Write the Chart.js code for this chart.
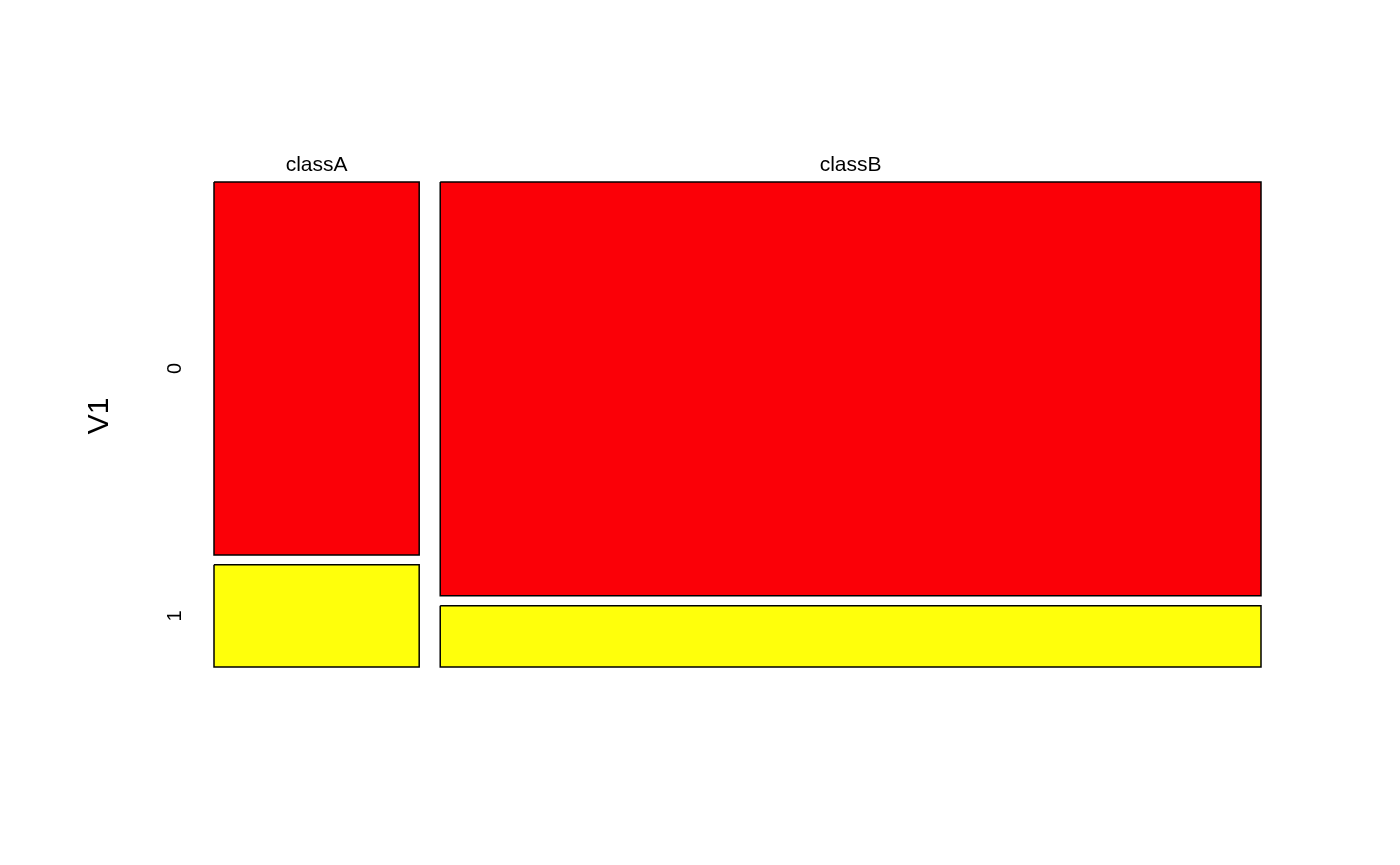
<!DOCTYPE html>
<html>
<head>
<meta charset="utf-8">
<script src="https://cdn.jsdelivr.net/npm/chart.js@4.4.1/dist/chart.umd.min.js"></script>
<style>
  html, body { margin: 0; padding: 0; background: #ffffff; }
  #wrap { width: 1400px; height: 865px; }
</style>
</head>
<body>
<div id="wrap"><canvas id="c" width="1400" height="865"></canvas></div>
<script>
// ---- data ----
const columnLabels = ['classA', 'classB'];      // x categories (columns)
const rowLabels = ['0', '1'];                    // V1 levels (rows)
const counts0 = [157, 697];                      // V1 = 0 per class
const counts1 = [43, 103];                       // V1 = 1 per class
const axisTitle = 'V1';
const fillColors = ['#fb0007', '#ffff0b'];

// ---- mosaic geometry derived from counts ----
const GAP_X = 0.0205;   // gap between columns, in proportion units
const GAP_Y = 0.021;    // gap between rows, in proportion units
const totals = counts0.map((v, i) => v + counts1[i]);
const grand = totals.reduce((a, b) => a + b, 0);

const rects = [];
const colCenters = [];
let xStart = 0;
totals.forEach((t, i) => {
  const w = t / grand;
  const x0 = xStart, x1 = xStart + w;
  colCenters.push((x0 + x1) / 2);
  const p0 = counts0[i] / t;
  const p1 = counts1[i] / t;
  rects.push({ x0, x1, y0: 0, y1: p0, color: fillColors[0], row: 0, col: i });
  rects.push({ x0, x1, y0: p0 + GAP_Y, y1: p0 + GAP_Y + p1, color: fillColors[1], row: 1, col: i });
  xStart = x1 + GAP_X;
});
// row label positions follow the first column
const rowCenters = rects.filter(r => r.col === 0).map(r => (r.y0 + r.y1) / 2);

const datasets = rects.map(r => ({
  data: [
    { x: r.x0, y: r.y0 }, { x: r.x1, y: r.y0 },
    { x: r.x1, y: r.y1 }, { x: r.x0, y: r.y1 }, { x: r.x0, y: r.y0 }
  ],
  showLine: true,
  fill: 'shape',
  clip: false,
  backgroundColor: r.color,
  borderColor: '#000000',
  borderWidth: 1.5,
  pointRadius: 0,
  pointHoverRadius: 0,
  tension: 0
}));

const FONT = "'Liberation Sans', Arial, Helvetica, sans-serif";

const titlePlugin = {
  id: 'v1title',
  afterDraw(chart) {
    const ctx = chart.ctx;
    ctx.save();
    ctx.translate(100, 416);
    ctx.rotate(-Math.PI / 2);
    ctx.font = '30px ' + FONT;
    ctx.fillStyle = '#000000';
    ctx.textAlign = 'center';
    ctx.textBaseline = 'middle';
    ctx.fillText(axisTitle, 0, 0);
    ctx.restore();
  }
};

new Chart(document.getElementById('c'), {
  type: 'scatter',
  data: { datasets },
  options: {
    responsive: false,
    animation: false,
    events: [],
    layout: { padding: { left: 0, top: 0, right: 139, bottom: 198 } },
    plugins: { legend: { display: false }, tooltip: { enabled: false } },
    scales: {
      x: {
        type: 'linear',
        position: 'top',
        min: 0,
        max: 1 + GAP_X,
        grid: { display: false },
        border: { display: false },
        afterBuildTicks(axis) { axis.ticks = colCenters.map(v => ({ value: v })); },
        afterFit(axis) { axis.height = 182; },
        ticks: {
          autoSkip: false,
          maxRotation: 0,
          minRotation: 0,
          padding: -4,
          color: '#000000',
          font: { family: FONT, size: 21 },
          callback: (v, i) => columnLabels[i]
        }
      },
      y: {
        type: 'linear',
        position: 'left',
        reverse: true,
        min: 0,
        max: 1 + GAP_Y,
        grid: { display: false },
        border: { display: false },
        afterBuildTicks(axis) { axis.ticks = rowCenters.map(v => ({ value: v })); },
        afterFit(axis) { axis.width = 214; },
        ticks: {
          autoSkip: false,
          minRotation: 90,
          maxRotation: 90,
          crossAlign: 'center',
          padding: 25,
          color: '#000000',
          font: { family: FONT, size: 20 },
          callback: (v, i) => rowLabels[i]
        }
      }
    }
  },
  plugins: [titlePlugin]
});
</script>
</body>
</html>
